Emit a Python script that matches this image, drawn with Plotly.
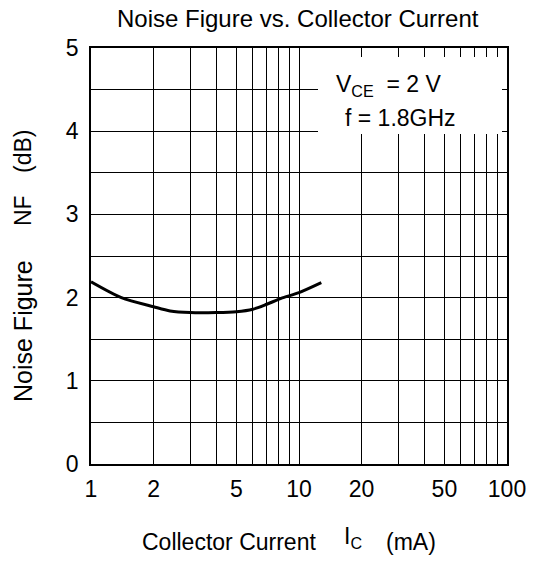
import plotly.graph_objects as go

# Data
current_ma = [1.0, 1.4, 2.0, 2.4, 3.0, 4.0, 5.0, 6.0, 7.0, 8.2, 10.0, 12.8]
noise_figure_db = [2.19, 2.00, 1.89, 1.84, 1.82, 1.82, 1.83, 1.86, 1.92, 1.99, 2.06, 2.18]

x_grid_vals = [1, 2, 3, 4, 5, 6, 7, 8, 9, 10, 20, 30, 40, 50, 60, 70, 80, 90, 100]
x_labels = {1: "1", 2: "2", 5: "5", 10: "10", 20: "20", 50: "50", 100: "100"}
y_grid_vals = [0, 0.5, 1, 1.5, 2, 2.5, 3, 3.5, 4, 4.5, 5]
y_labels = {0: "0", 1: "1", 2: "2", 3: "3", 4: "4", 5: "5"}

FONT = "Liberation Sans, Arial, sans-serif"
L, T, W, H = 91, 48, 416, 416


def px(xp):
    return (xp - L) / W


def py(yp):
    return (T + H - yp) / H


fig = go.Figure()
fig.add_trace(go.Scatter(
    x=current_ma, y=noise_figure_db, mode="lines",
    line=dict(color="black", width=3, shape="spline", smoothing=0.8),
    showlegend=False, hoverinfo="skip",
))


def ann(text, x, y, size=23, xanchor="center", angle=0):
    return dict(text=text, xref="paper", yref="paper", x=px(x), y=py(y),
                showarrow=False, xanchor=xanchor, yanchor="middle",
                textangle=angle, font=dict(size=size))


fig.update_layout(
    width=546, height=568,
    margin=dict(l=L, r=546 - L - W, t=T, b=568 - T - H),
    paper_bgcolor="white", plot_bgcolor="white",
    font=dict(family=FONT, size=23, color="black"),
    xaxis=dict(
        type="log", range=[0, 2],
        tickmode="array", tickvals=x_grid_vals,
        ticktext=[x_labels.get(v, "") for v in x_grid_vals],
        showgrid=True, gridcolor="black", gridwidth=1,
        showline=True, linecolor="black", linewidth=1.5, mirror=True,
        ticks="", zeroline=False, ticklabelstandoff=4,
        tickfont=dict(size=23),
    ),
    yaxis=dict(
        range=[0, 5],
        tickmode="array", tickvals=y_grid_vals,
        ticktext=[y_labels.get(v, "") for v in y_grid_vals],
        showgrid=True, gridcolor="black", gridwidth=1,
        showline=True, linecolor="black", linewidth=1.5, mirror=True,
        ticks="", zeroline=False, ticklabelstandoff=6,
        tickfont=dict(size=23),
    ),
    shapes=[
        dict(type="rect", xref="paper", yref="paper",
             x0=px(318), x1=px(502), y0=py(134), y1=py(57),
             fillcolor="white", line=dict(width=0), layer="above"),
    ],
    annotations=[
        ann("Noise Figure vs. Collector Current", 298, 19, size=24),
        ann("V<sub>CE</sub>  = 2 V", 388, 85),
        ann("f = 1.8GHz", 400, 118),
        ann("Collector Current", 229, 542),
        ann("I<sub>C</sub>", 342, 537, xanchor="left"),
        ann("(mA)", 411, 542),
        ann("Noise Figure", 23, 331, size=25, angle=-90),
        ann("NF", 23, 211, angle=-90),
        ann("(dB)", 23, 152, angle=-90),
    ],
)

fig.write_html("out.html", config={"displayModeBar": False},
               post_script="document.body.style.margin='0';")
